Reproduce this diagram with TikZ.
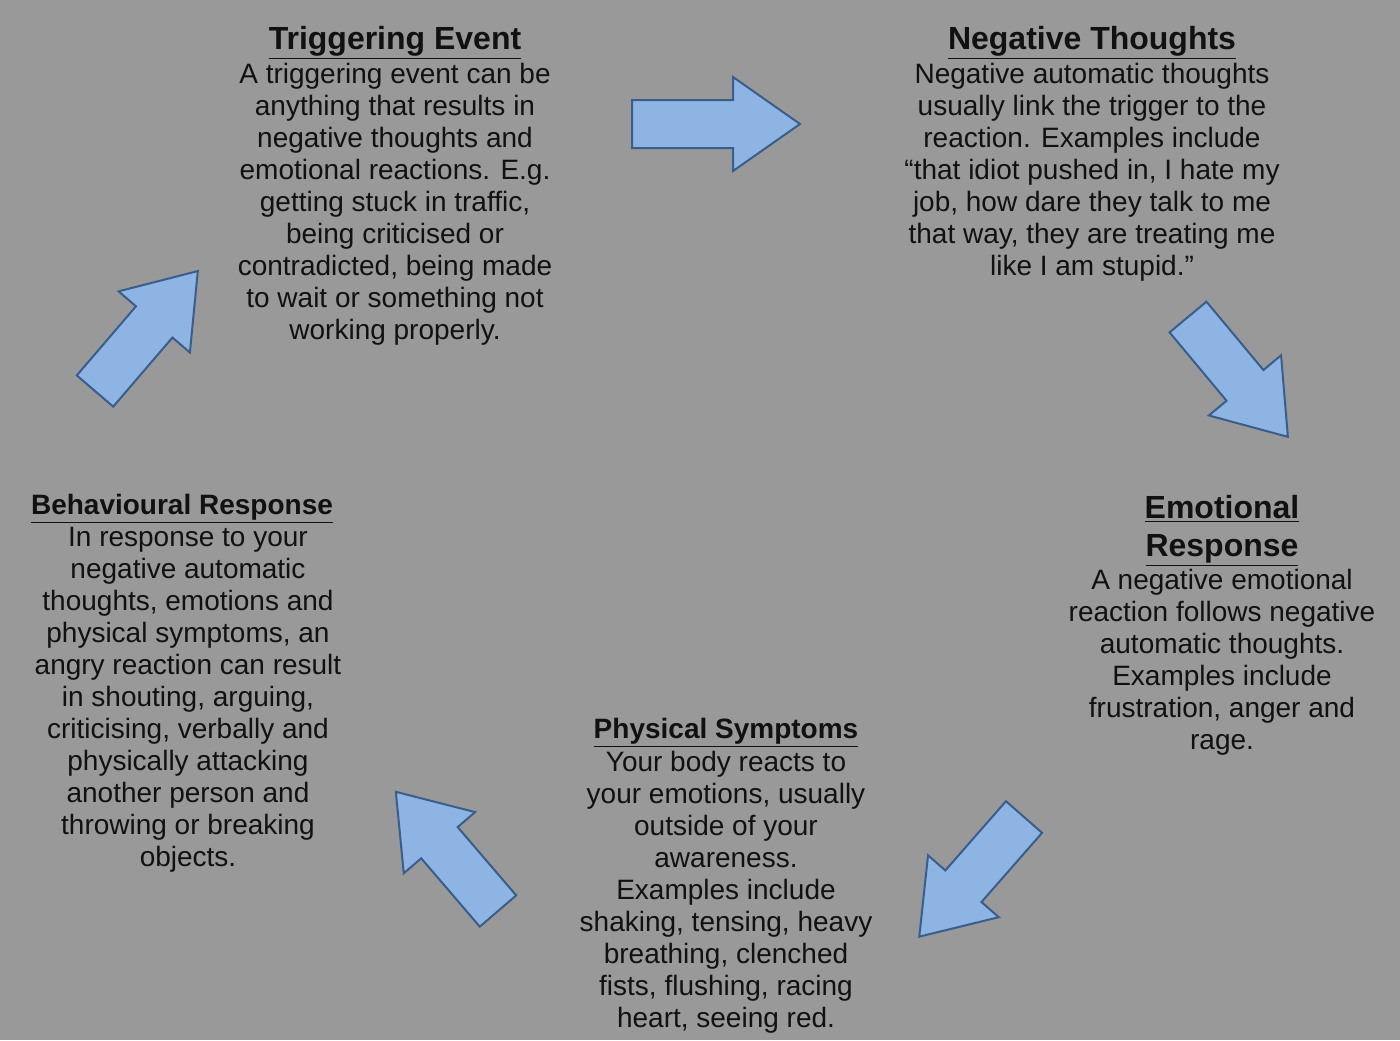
\documentclass[tikz,border=0pt]{standalone}
\usepackage{fontspec}
\setmainfont{Liberation Sans}
\usetikzlibrary{positioning}
\definecolor{bggrey}{HTML}{999999}
\definecolor{arrowblue}{HTML}{8EB4E3}
\definecolor{arrowline}{HTML}{3A5E8C}
\definecolor{inktext}{HTML}{111111}
\tikzset{
  ttl/.style={font=\fontsize{16}{19}\selectfont\bfseries, align=center,
              inner sep=0pt, anchor=base, text=inktext},
  ttlsm/.style={ttl, font=\fontsize{14}{16}\selectfont\bfseries},
  txt/.style={font=\fontsize{14}{16}\selectfont, align=center,
              inner sep=0pt, anchor=north, text=inktext},
  barrow/.style={draw=arrowline, fill=arrowblue, line width=1pt, line join=miter},
  pics/blockarrow/.style={code={
    \draw[barrow] (0,-24) -- ({#1-67},-24) -- ({#1-67},-47) -- (#1,0)
      -- ({#1-67},47) -- ({#1-67},24) -- (0,24) -- cycle;}},
}

\begin{document}
\begin{tikzpicture}[x=0.5pt, y=-0.5pt]
\fill[bggrey] (0,0) rectangle (1400,1040);
\useasboundingbox (0,0) rectangle (1400,1040);

\node[ttl] (trigTitle) at (395,49) {\underline{Triggering Event}};
\node[txt] (trigText)  at (395,63) {A triggering event can be\\anything that results in\\negative thoughts and\\emotional reactions. E.g.\\getting stuck in traffic,\\being criticised or\\contradicted, being made\\to wait or something not\\working properly.};

\node[ttl] (negTitle) at (1092,49) {\underline{Negative Thoughts}};
\node[txt] (negText)  at (1092,63) {Negative automatic thoughts\\usually link the trigger to the\\reaction. Examples include\\“that idiot pushed in, I hate my\\job, how dare they talk to me\\that way, they are treating me\\like I am stupid.”};

% base of a two-line title sits on its last line
\node[ttl] (emoTitle) at (1222,556) {\underline{Emotional}\\\underline{Response}};
\node[txt] (emoText)  at (1222,569) {A negative emotional\\reaction follows negative\\automatic thoughts.\\Examples include\\frustration, anger and\\rage.};

\node[ttlsm] (physTitle) at (726,738) {\underline{Physical Symptoms}};
\node[txt]   (physText)  at (726,751) {Your body reacts to\\your emotions, usually\\outside of your\\awareness.\\Examples include\\shaking, tensing, heavy\\breathing, clenched\\fists, flushing, racing\\heart, seeing red.};

\node[ttlsm] (behTitle) at (182,514) {\underline{Behavioural Response}};
\node[txt]   (behText)  at (188,527) {In response to your\\negative automatic\\thoughts, emotions and\\physical symptoms, an\\angry reaction can result\\in shouting, arguing,\\criticising, verbally and\\physically attacking\\another person and\\throwing or breaking\\objects.};

% block arrows round the cycle
\pic (arrTrigNeg)               at (632,124)  {blockarrow=168};
\pic[rotate=-50.2]  (arrNegEmo)  at (1188,317) {blockarrow=156};
\pic[rotate=-131.2] (arrEmoPhys) at (1024,817) {blockarrow=159};
\pic[rotate=130.6]  (arrPhysBeh) at (498,911)  {blockarrow=157};
\pic[rotate=49.4]   (arrBehTrig) at (95,391)   {blockarrow=158};
\end{tikzpicture}
\end{document}
